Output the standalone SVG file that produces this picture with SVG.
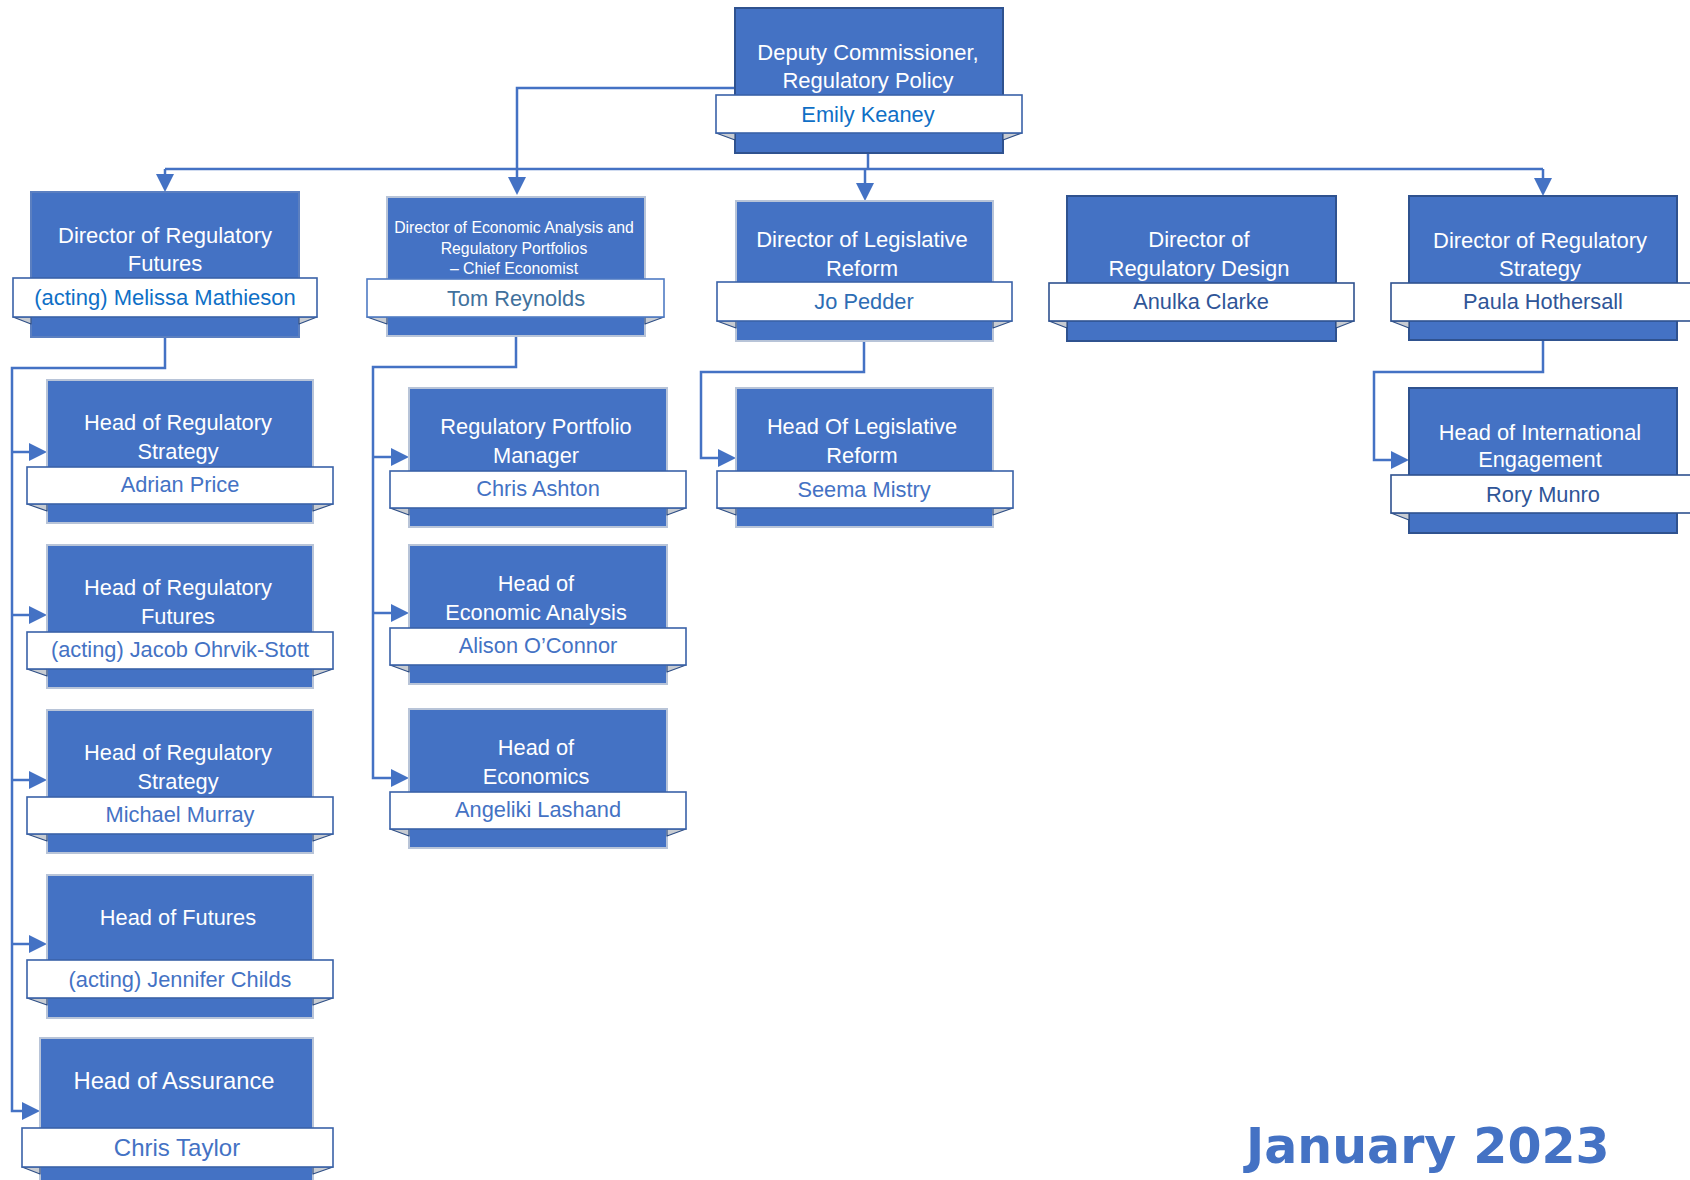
<svg xmlns="http://www.w3.org/2000/svg" width="1690" height="1180" viewBox="0 0 1690 1180">
<style>
.bg{fill:#ffffff}
.box{fill:#4472C4;stroke:#2F528F;stroke-width:2}
.box.lt{stroke:#B8C4D8}
.rib{fill:#ffffff;stroke:#3A62A8;stroke-width:1.6}
.fold{fill:#C8CCD2;stroke:#2F4F86;stroke-width:1.2;stroke-linejoin:round}
.t{font-family:"Liberation Sans",Arial,sans-serif;font-size:21.8px;fill:#ffffff;text-anchor:middle}
.ts{font-size:15.8px}
.n{font-family:"Liberation Sans",Arial,sans-serif;font-size:21.8px;text-anchor:middle;fill:#4472C4}
.nb{fill:#0F6FC6}
.ng{fill:#41719C}
.nd{fill:#2F5597}
.nm{fill:#2E6DB4}
.con{fill:none;stroke:#4472C4;stroke-width:2.5}
.date{font-family:"DejaVu Sans",Verdana,sans-serif;font-weight:bold;font-size:49px;fill:#4472C4}
</style>
<defs>
<marker id="ah" markerUnits="userSpaceOnUse" viewBox="0 0 18 18" markerWidth="18" markerHeight="18" refX="8" refY="9" orient="auto">
<path d="M0,0 L18,9 L0,18 z" fill="#4472C4"/>
</marker>
</defs>
<rect class="bg" x="0" y="0" width="1690" height="1180"/>

<g id="connectors">
<path class="con" d="M165,169 H1543"/>
<path class="con" d="M868,153 V169"/>
<path class="con" d="M165,169 V182" marker-end="url(#ah)"/>
<path class="con" d="M735,88 H517 V185" marker-end="url(#ah)"/>
<path class="con" d="M865,169 V191" marker-end="url(#ah)"/>
<path class="con" d="M1543,169 V186" marker-end="url(#ah)"/>
<path class="con" d="M165,337 V368 H12 V1111 H30" marker-end="url(#ah)"/>
<path class="con" d="M12,452 H37" marker-end="url(#ah)"/>
<path class="con" d="M12,615 H37" marker-end="url(#ah)"/>
<path class="con" d="M12,780 H37" marker-end="url(#ah)"/>
<path class="con" d="M12,944 H37" marker-end="url(#ah)"/>
<path class="con" d="M516,336 V367 H373 V778 H399" marker-end="url(#ah)"/>
<path class="con" d="M373,457 H399" marker-end="url(#ah)"/>
<path class="con" d="M373,613 H399" marker-end="url(#ah)"/>
<path class="con" d="M864,341 V372 H701 V458 H726" marker-end="url(#ah)"/>
<path class="con" d="M1543,340 V372 H1374 V460 H1399" marker-end="url(#ah)"/>
</g>

<g id="deputy-commissioner">
<rect class="box" x="735" y="8" width="268" height="145"/>
<polygon class="fold" points="716,133 735,133 735,140"/>
<polygon class="fold" points="1022,133 1003,133 1003,140"/>
<rect class="rib" x="716" y="95" width="306" height="38"/>
<text class="t" x="868" y="60" style="font-size:22px">Deputy Commissioner,</text>
<text class="t" x="868" y="88" style="font-size:22px">Regulatory Policy</text>
<text class="n nb" x="868" y="122">Emily Keaney</text>
</g>

<g id="dir-regulatory-futures">
<rect class="box" x="31" y="192" width="268" height="145" style="stroke:#5B7FC0"/>
<polygon class="fold" points="13,317 31,317 31,324"/>
<polygon class="fold" points="317,317 299,317 299,324"/>
<rect class="rib" x="13" y="278" width="304" height="39"/>
<text class="t" x="165" y="243" style="font-size:22px">Director of Regulatory</text>
<text class="t" x="165" y="271" style="font-size:22px">Futures</text>
<text class="n nb" x="165" y="305" style="font-size:22px">(acting) Melissa Mathieson</text>
</g>

<g id="dir-economic-analysis">
<rect class="box lt" x="387" y="197" width="258" height="139"/>
<polygon class="fold" points="367,317 387,317 387,324"/>
<polygon class="fold" points="664,317 645,317 645,324"/>
<rect class="rib" x="367" y="279" width="297" height="38" style="stroke:#4F7BC4"/>
<text class="t ts" x="514" y="233">Director of Economic Analysis and</text>
<text class="t ts" x="514" y="254">Regulatory Portfolios</text>
<text class="t ts" x="514" y="274">– Chief Economist</text>
<text class="n ng" x="516" y="306">Tom Reynolds</text>
</g>

<g id="dir-legislative-reform">
<rect class="box lt" x="736" y="201" width="257" height="140"/>
<polygon class="fold" points="717,321 736,321 736,328"/>
<polygon class="fold" points="1012,321 993,321 993,328"/>
<rect class="rib" x="717" y="282" width="295" height="39"/>
<text class="t" x="862" y="247" style="font-size:22px">Director of Legislative</text>
<text class="t" x="862" y="276" style="font-size:22px">Reform</text>
<text class="n nm" x="864" y="309">Jo Pedder</text>
</g>

<g id="dir-regulatory-design">
<rect class="box" x="1067" y="196" width="269" height="145"/>
<polygon class="fold" points="1049,321 1067,321 1067,328"/>
<polygon class="fold" points="1354,321 1336,321 1336,328"/>
<rect class="rib" x="1049" y="283" width="305" height="38" style="stroke:#2F528F"/>
<text class="t" x="1199" y="247" style="font-size:22px">Director of</text>
<text class="t" x="1199" y="276" style="font-size:22px">Regulatory Design</text>
<text class="n nd" x="1201" y="309">Anulka Clarke</text>
</g>

<g id="dir-regulatory-strategy">
<rect class="box" x="1409" y="196" width="268" height="144"/>
<polygon class="fold" points="1391,321 1409,321 1409,328"/>
<rect class="rib" x="1391" y="283" width="310" height="38" style="stroke:#2F528F"/>
<text class="t" x="1540" y="248" style="font-size:22px">Director of Regulatory</text>
<text class="t" x="1540" y="276" style="font-size:22px">Strategy</text>
<text class="n nd" x="1543" y="309">Paula Hothersall</text>
</g>

<g id="head-regulatory-strategy-1">
<rect class="box lt" x="47" y="380" width="266" height="143"/>
<polygon class="fold" points="27,504 47,504 47,511"/>
<polygon class="fold" points="333,504 313,504 313,511"/>
<rect class="rib" x="27" y="467" width="306" height="37"/>
<text class="t" x="178" y="430">Head of Regulatory</text>
<text class="t" x="178" y="459">Strategy</text>
<text class="n" x="180" y="492">Adrian Price</text>
</g>

<g id="head-regulatory-futures">
<rect class="box lt" x="47" y="545" width="266" height="143"/>
<polygon class="fold" points="27,669 47,669 47,676"/>
<polygon class="fold" points="333,669 313,669 313,676"/>
<rect class="rib" x="27" y="632" width="306" height="37"/>
<text class="t" x="178" y="595">Head of Regulatory</text>
<text class="t" x="178" y="624">Futures</text>
<text class="n" x="180" y="657">(acting) Jacob Ohrvik-Stott</text>
</g>

<g id="head-regulatory-strategy-2">
<rect class="box lt" x="47" y="710" width="266" height="143"/>
<polygon class="fold" points="27,834 47,834 47,841"/>
<polygon class="fold" points="333,834 313,834 313,841"/>
<rect class="rib" x="27" y="797" width="306" height="37"/>
<text class="t" x="178" y="760">Head of Regulatory</text>
<text class="t" x="178" y="789">Strategy</text>
<text class="n" x="180" y="822">Michael Murray</text>
</g>

<g id="head-futures">
<rect class="box lt" x="47" y="875" width="266" height="143"/>
<polygon class="fold" points="27,998 47,998 47,1005"/>
<polygon class="fold" points="333,998 313,998 313,1005"/>
<rect class="rib" x="27" y="960" width="306" height="38"/>
<text class="t" x="178" y="925">Head of Futures</text>
<text class="n" x="180" y="987">(acting) Jennifer Childs</text>
</g>

<g id="head-assurance">
<rect class="box lt" x="40" y="1038" width="273" height="150"/>
<polygon class="fold" points="22,1167 40,1167 40,1174"/>
<polygon class="fold" points="333,1167 313,1167 313,1174"/>
<rect class="rib" x="22" y="1128" width="311" height="39"/>
<text class="t" x="174" y="1089" style="font-size:23.8px">Head of Assurance</text>
<text class="n" x="177" y="1156" style="font-size:24px">Chris Taylor</text>
</g>

<g id="regulatory-portfolio-manager">
<rect class="box lt" x="409" y="388" width="258" height="139"/>
<polygon class="fold" points="390,508 409,508 409,515"/>
<polygon class="fold" points="686,508 667,508 667,515"/>
<rect class="rib" x="390" y="471" width="296" height="37"/>
<text class="t" x="536" y="434">Regulatory Portfolio</text>
<text class="t" x="536" y="463">Manager</text>
<text class="n" x="538" y="496">Chris Ashton</text>
</g>

<g id="head-economic-analysis">
<rect class="box lt" x="409" y="545" width="258" height="139"/>
<polygon class="fold" points="390,665 409,665 409,672"/>
<polygon class="fold" points="686,665 667,665 667,672"/>
<rect class="rib" x="390" y="628" width="296" height="37"/>
<text class="t" x="536" y="591">Head of</text>
<text class="t" x="536" y="620">Economic Analysis</text>
<text class="n" x="538" y="653">Alison O’Connor</text>
</g>

<g id="head-economics">
<rect class="box lt" x="409" y="709" width="258" height="139"/>
<polygon class="fold" points="390,829 409,829 409,836"/>
<polygon class="fold" points="686,829 667,829 667,836"/>
<rect class="rib" x="390" y="792" width="296" height="37"/>
<text class="t" x="536" y="755">Head of</text>
<text class="t" x="536" y="784">Economics</text>
<text class="n" x="538" y="817">Angeliki Lashand</text>
</g>

<g id="head-legislative-reform">
<rect class="box lt" x="736" y="388" width="257" height="139"/>
<polygon class="fold" points="717,508 736,508 736,515"/>
<polygon class="fold" points="1013,508 993,508 993,515"/>
<rect class="rib" x="717" y="471" width="296" height="37"/>
<text class="t" x="862" y="434">Head Of Legislative</text>
<text class="t" x="862" y="463">Reform</text>
<text class="n" x="864" y="497">Seema Mistry</text>
</g>

<g id="head-international-engagement">
<rect class="box" x="1409" y="388" width="268" height="145"/>
<polygon class="fold" points="1391,513 1409,513 1409,520"/>
<rect class="rib" x="1391" y="475" width="310" height="38" style="stroke:#2F528F"/>
<text class="t" x="1540" y="440">Head of International</text>
<text class="t" x="1540" y="467">Engagement</text>
<text class="n nd" x="1543" y="502">Rory Munro</text>
</g>

<text class="date" x="1246" y="1163">January 2023</text>
</svg>
